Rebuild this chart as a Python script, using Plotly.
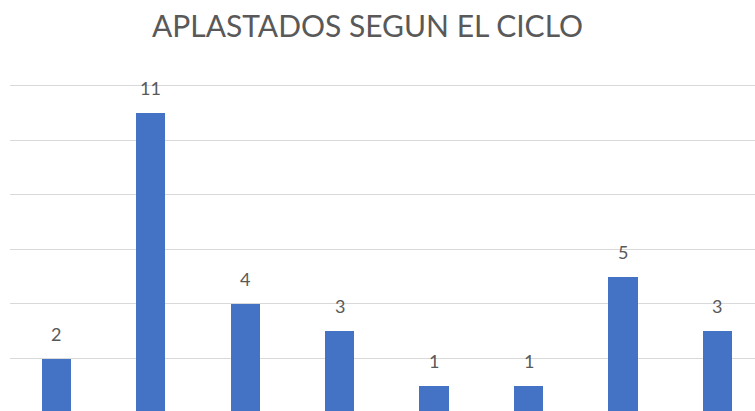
import plotly.graph_objects as go

title = "APLASTADOS SEGUN EL CICLO"
categories = ["Ciclo 1", "Ciclo 2", "Ciclo 3", "Ciclo 4", "Ciclo 5", "Ciclo 6", "Ciclo 7", "Ciclo 8"]
values = [2, 11, 4, 3, 1, 1, 5, 3]

BAR = "#4472C4"
TXT = "#595959"
GRID = "#D9D9D9"
FONT = "Lato"

fig = go.Figure()
fig.add_trace(go.Bar(
    x=categories, y=values, width=0.307,
    marker=dict(color=BAR, line=dict(width=0)),
    hoverinfo="skip",
))

annotations = [
    dict(x=c, y=v, text=str(v), showarrow=False, yshift=25,
         xanchor="center", yanchor="middle",
         font=dict(family=FONT, size=18, color=TXT))
    for c, v in zip(categories, values)
]

fig.update_layout(
    width=755, height=411,
    margin=dict(l=10, r=0, t=60, b=0),
    paper_bgcolor="white", plot_bgcolor="white",
    showlegend=False,
    title=dict(text=title, x=367.5 / 755, xanchor="center", xref="container",
               y=1 - 26 / 411, yanchor="middle", yref="container",
               font=dict(family=FONT, size=30, color=TXT)),
    annotations=annotations,
    bargap=0,
)
fig.update_xaxes(range=[-0.487, 7.397], showticklabels=False, showgrid=False,
                 zeroline=False, showline=False, ticks="")
fig.update_yaxes(range=[0.077, 12.934], dtick=2, tick0=0, showticklabels=False,
                 showgrid=True, gridcolor=GRID, gridwidth=1, zeroline=False,
                 showline=False, ticks="")

fig.write_html("out.html")
